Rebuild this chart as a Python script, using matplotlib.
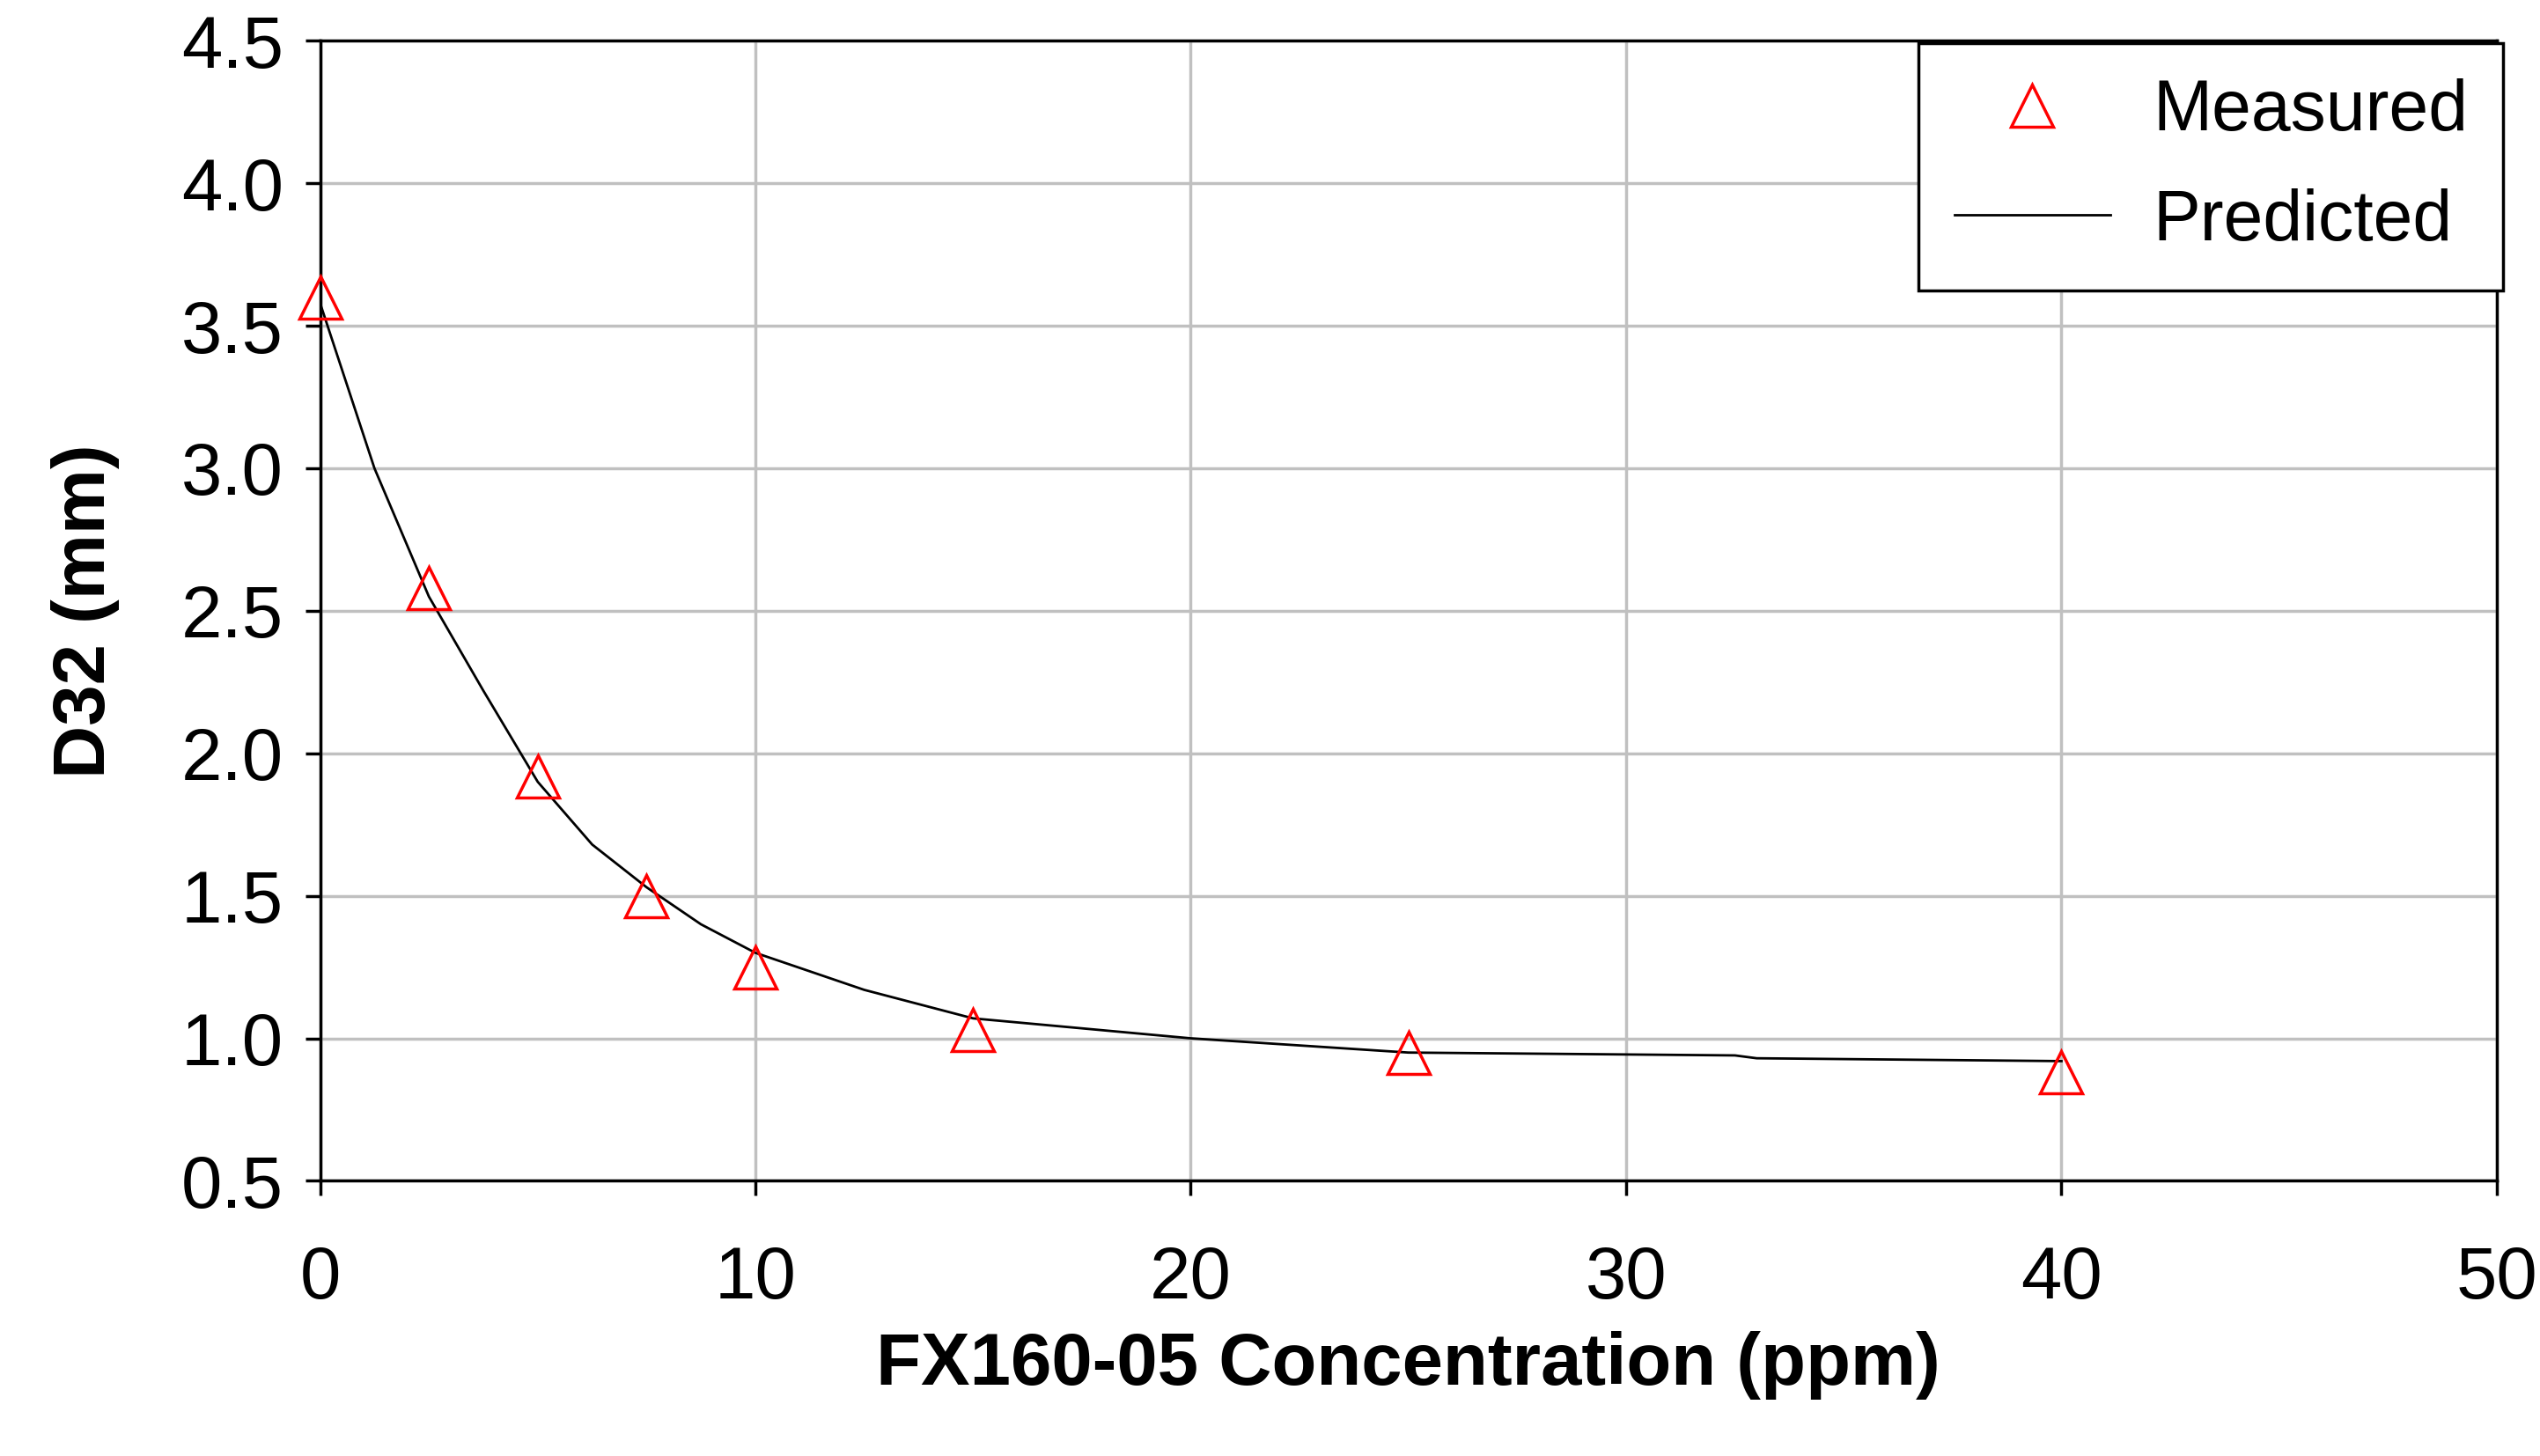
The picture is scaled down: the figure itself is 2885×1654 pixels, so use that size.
import matplotlib
matplotlib.use("Agg")
import matplotlib.pyplot as plt

meas_x = [0, 2.5, 5, 7.5, 10, 15, 25, 40]
meas_y = [3.6, 2.58, 1.92, 1.5, 1.25, 1.03, 0.95, 0.88]
pred_x = [0, 1.25, 2.5, 3.75, 5, 6.25, 7.5, 8.75, 10, 12.5, 15, 20, 25, 32.5, 33, 40]
pred_y = [3.58, 3.0, 2.55, 2.22, 1.9, 1.68, 1.53, 1.4, 1.3, 1.17, 1.07, 1.0, 0.95, 0.94, 0.93, 0.92]
xticks = [0, 10, 20, 30, 40, 50]
yticks = [0.5, 1.0, 1.5, 2.0, 2.5, 3.0, 3.5, 4.0, 4.5]

plt.rcParams['font.family'] = ['Liberation Sans', 'DejaVu Sans']
fig = plt.figure(figsize=(28.85, 16.54), dpi=100)
ax = fig.add_axes([0.126, 0.189, 0.857, 0.783])
ax.plot(pred_x, pred_y, color='black', lw=2, label='Predicted', zorder=3)
ax.plot(meas_x, meas_y, ls='none', marker='^', ms=34, mfc='none', mec='red', mew=2.5,
        label='Measured', zorder=4, clip_on=False)
ax.set_xlim(0, 50)
ax.set_ylim(0.5, 4.5)
ax.set_xticks(xticks)
ax.set_yticks(yticks)
ax.set_yticklabels([f"{v:.1f}" for v in yticks])
ax.grid(True, color='#c0c0c0', lw=2.5)
ax.set_axisbelow(True)
for s in ax.spines.values():
    s.set_linewidth(2.5)
ax.tick_params(labelsize=60, length=12, width=2.5, pad=18)
ax.tick_params(axis='x', pad=40)
ax.set_xlabel('FX160-05 Concentration (ppm)', fontsize=60, fontweight='bold', labelpad=15)
ax.set_ylabel('D32 (mm)', fontsize=60, fontweight='bold', labelpad=50)
h, l = ax.get_legend_handles_labels()
leg = ax.legend(h[::-1], l[::-1], loc='upper right', fontsize=58, fancybox=False,
                edgecolor='black', framealpha=1, borderaxespad=0.0, handlelength=2.2,
                labelspacing=0.6, borderpad=0.5, handletextpad=0.6,
                bbox_to_anchor=(1.003, 0.998))
leg.get_frame().set_linewidth(2.5)
fig.savefig('out.png', dpi=100)
